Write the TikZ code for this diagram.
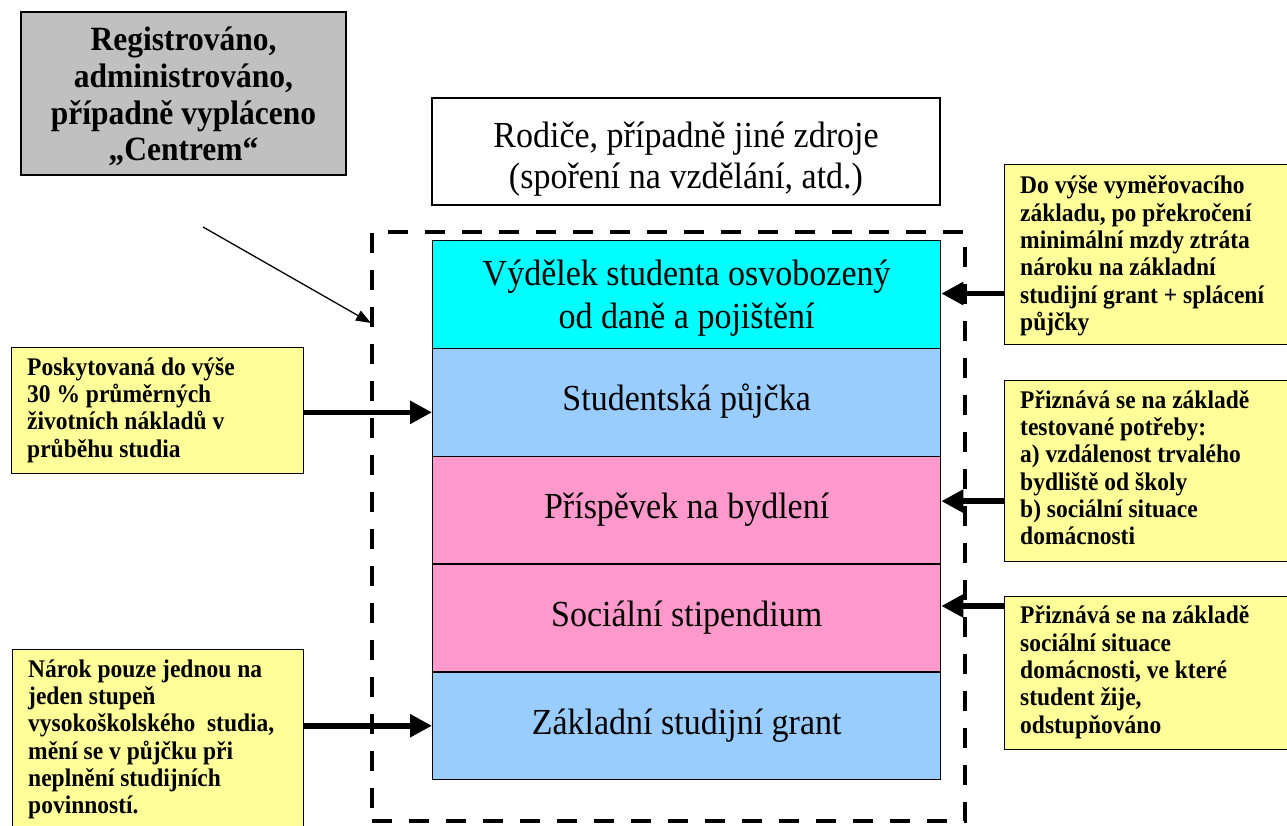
\documentclass[tikz,border=0pt]{standalone}
\usepackage{fontspec}
\setmainfont{Liberation Serif}
\usetikzlibrary{arrows.meta}
\definecolor{cyanf}{HTML}{00FFFF}
\definecolor{bluef}{HTML}{99CCFF}
\definecolor{pinkf}{HTML}{FF99CC}
\definecolor{yelf}{HTML}{FFFF99}
\definecolor{grayf}{HTML}{C0C0C0}
\newcommand\tallc[1]{\scalebox{1}[1.08]{\begin{tabular}{@{}c@{}}#1\end{tabular}}}
\newcommand\talll[1]{\scalebox{1}[1.08]{\begin{tabular}{@{}l@{}}#1\end{tabular}}}
\tikzset{
  stackbox/.style={draw=black, line width=1.3pt, minimum width=508pt, minimum height=107.8pt,
    anchor=north west, inner sep=0pt, font=\fontsize{34}{39.4}\selectfont},
  stacktext/.style={inner sep=0pt, font=\fontsize{34}{39.4}\selectfont},
  ybox/.style={draw=black, line width=1.3pt, fill=yelf, anchor=north west, inner sep=0pt},
  ytext/.style={inner sep=0pt, font=\bfseries\fontsize{23.5}{25.3}\selectfont},
  thickarrow/.style={line width=5.5pt, -{Triangle[length=22pt,width=22pt]}},
  thinarrow/.style={line width=1.3pt, -{Triangle[length=15pt,width=11pt]}},
}
\begin{document}
\begin{tikzpicture}[x=1pt,y=-1pt]
\clip (0,0) rectangle (1287,826);
\fill[white] (0,0) rectangle (1287,826);

% gray box
\node[draw=black, line width=1.5pt, fill=grayf, minimum width=325pt, minimum height=163pt,
  inner sep=0pt] (centrum) at (183.5,93.5) {};
\node[inner sep=0pt, font=\bfseries\fontsize{31.5}{34}\selectfont] (centrumt)
  at ([yshift=-5pt]centrum.center)
  {\tallc{Registrováno,\\administrováno,\\případně vypláceno\\„Centrem“}};

% white box
\node[draw=black, line width=1.3pt, fill=white, minimum width=508pt, minimum height=107pt,
  inner sep=0pt] (rodice) at (686,151.5) {};
\node[inner sep=0pt, font=\fontsize{34}{38}\selectfont] (rodicet)
  at ([yshift=-8pt]rodice.center)
  {\tallc{Rodiče, případně jiné zdroje\\(spoření na vzdělání, atd.)}};

% dashed frame
\node[draw=black, line width=4pt, dash pattern=on 20pt off 17pt, minimum width=593pt, minimum height=589pt,
  inner sep=0pt] (frame) at (668.5,526.5) {};

% stack
\node[stackbox, fill=cyanf] (vydelek) at (432,240) {};
\node[stacktext] (vydelekt) at ([yshift=-4pt]vydelek.center)
  {\tallc{Výdělek studenta osvobozený\\od daně a pojištění}};
\node[stackbox, fill=bluef] (pujcka) at (432,347.8) {\tallc{Studentská půjčka}};
\node[stackbox, fill=pinkf] (bydleni) at (432,455.6) {\tallc{Příspěvek na bydlení}};
\node[stackbox, fill=pinkf] (stipendium) at (432,563.4) {\tallc{Sociální stipendium}};
\node[stackbox, fill=bluef] (grant) at (432,671.2) {\tallc{Základní studijní grant}};

% right yellow boxes
\node[ybox, minimum width=286pt, minimum height=180pt] (yr1) at (1004,164) {};
\node[ytext, anchor=west] (yr1t) at ([xshift=16pt,yshift=-2pt]yr1.west)
  {\talll{Do výše vyměřovacího\\základu, po překročení\\minimální mzdy ztráta\\nároku na základní\\studijní grant + splácení\\půjčky}};
\node[ybox, minimum width=286pt, minimum height=181pt] (yr2) at (1004,380) {};
\node[ytext, anchor=west] (yr2t) at ([xshift=16pt]yr2.west)
  {\talll{Přiznává se na základě\\testované potřeby:\\a) vzdálenost trvalého\\bydliště od školy\\b) sociální situace\\domácnosti}};
\node[ybox, minimum width=286pt, minimum height=153pt] (yr3) at (1004,596) {};
\node[ytext, anchor=west] (yr3t) at ([xshift=16pt]yr3.west)
  {\talll{Přiznává se na základě\\sociální situace\\domácnosti, ve které\\student žije,\\odstupňováno}};

% left yellow boxes
\node[ybox, minimum width=292pt, minimum height=126pt] (yl1) at (11,347) {};
\node[ytext, anchor=west] (yl1t) at ([xshift=16pt]yl1.west)
  {\talll{Poskytovaná do výše\\30 \% průměrných\\životních nákladů v\\průběhu studia}};
\node[ybox, minimum width=291pt, minimum height=210pt] (yl2) at (12,649) {};
\node[ytext, anchor=north west] (yl2t) at ([xshift=16pt,yshift=-9pt]yl2.north west)
  {\talll{Nárok pouze jednou na\\jeden stupeň\\vysokoškolského\ \ studia,\\mění se v půjčku při\\neplnění studijních\\povinností.}};

% arrows
\coordinate (a1) at ([yshift=1pt]vydelek.east);
\draw[thickarrow] (a1 -| yr1.west) -- (a1);
\coordinate (a2) at ([yshift=9pt]bydleni.east);
\draw[thickarrow] (a2 -| yr2.west) -- (a2);
\coordinate (a3) at ([yshift=12pt]stipendium.east);
\draw[thickarrow] (a3 -| yr3.west) -- (a3);
\coordinate (a4) at ([yshift=-10pt]pujcka.west);
\draw[thickarrow] (a4 -| yl1.east) -- (a4);
\draw[thickarrow] (grant.west -| yl2.east) -- (grant.west);

\coordinate (ts) at (203,227);
\coordinate (te) at (371,323);
\draw[thinarrow] (ts) -- (te);
\end{tikzpicture}
\end{document}
